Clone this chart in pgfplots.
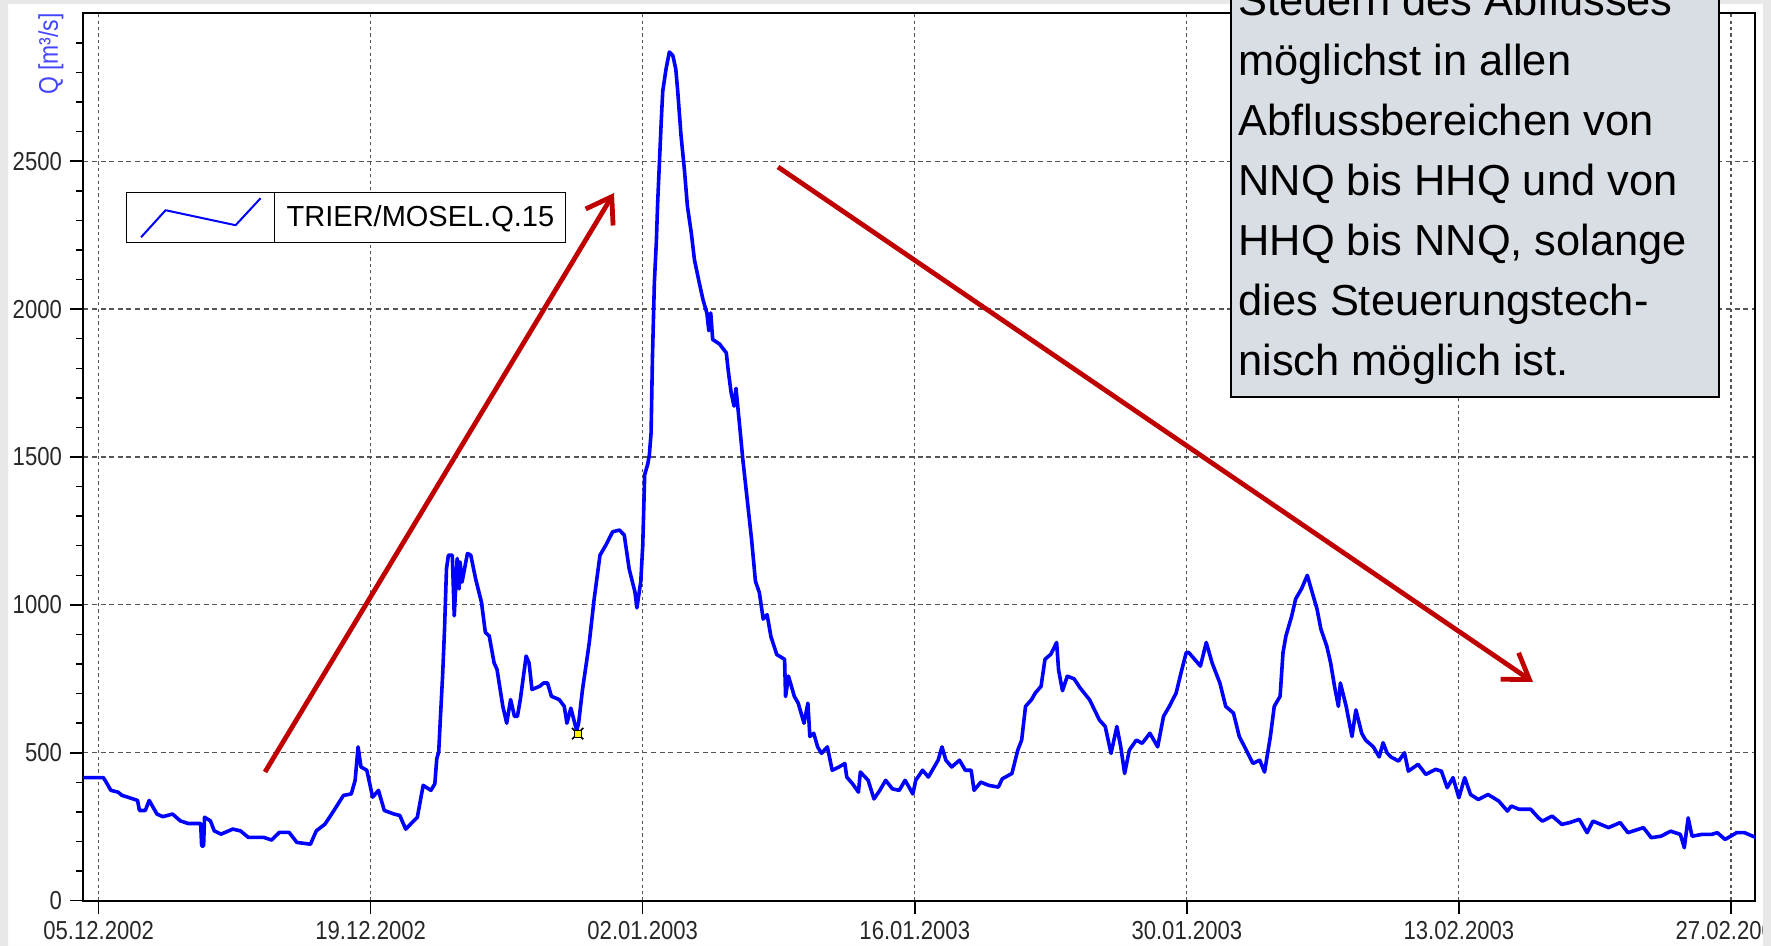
\documentclass[border=0pt]{standalone}
\usepackage{pgfplots}
\usepackage{pgfplotstable}
\pgfplotsset{compat=1.18}
\usetikzlibrary{arrows.meta}
\usepackage{fontspec}
\setmainfont{Liberation Sans}
\newfontfamily\tickfont[FakeStretch=0.85]{Liberation Sans}
\definecolor{framec}{RGB}{232,232,232}
\definecolor{boxfill}{RGB}{216,222,227}
\definecolor{arrowred}{RGB}{192,0,0}
\definecolor{qblue}{RGB}{0,0,255}
\definecolor{qlabel}{RGB}{70,70,255}
\definecolor{gridc}{RGB}{85,85,85}
\definecolor{tickc}{RGB}{40,40,40}

\pgfplotstableread{
day q
-0.8 416
0.24 416
0.33 407
0.63 373
1.0 367
1.2 356
1.5 350
2.0 339
2.1 305
2.4 305
2.6 339
3.0 293
3.3 284
3.8 293
4.2 270
4.6 261
5.25 261
5.3 185
5.4 185
5.45 282
5.75 270
5.95 236
6.3 225
6.9 242
7.3 236
7.7 214
8.5 214
8.9 205
9.3 231
9.8 231
10.2 197
10.9 191
11.2 236
11.65 259
12.05 299
12.6 356
13.0 361
13.2 407
13.35 520
13.5 452
13.8 441
14.1 350
14.4 373
14.7 305
15.2 293
15.5 288
15.8 242
16.4 282
16.7 390
17.1 373
17.3 395
17.4 480
17.5 503
17.6 634
17.7 759
17.8 918
17.9 1122
18.0 1168
18.2 1168
18.3 963
18.45 1157
18.55 1054
18.6 1145
18.7 1077
18.98 1174
19.15 1168
19.4 1088
19.7 1009
19.9 907
20.1 895
20.35 804
20.5 782
20.8 657
21.0 600
21.2 680
21.4 623
21.55 623
21.7 680
22.0 827
22.15 804
22.3 714
22.7 725
22.9 736
23.1 736
23.3 691
23.7 680
23.96 657
24.1 600
24.3 651
24.6 575
24.7 600
24.9 714
25.1 804
25.25 873
25.5 1020
25.8 1168
26.1 1202
26.45 1247
26.8 1253
27.05 1236
27.3 1122
27.6 1043
27.7 990
27.9 1080
28.0 1200
28.1 1440
28.26 1477
28.34 1507
28.43 1582
28.5 1837
28.6 2092
28.7 2227
28.77 2362
28.86 2497
28.95 2632
29.03 2737
29.2 2812
29.37 2869
29.55 2857
29.7 2812
29.8 2737
29.97 2587
30.15 2467
30.3 2347
30.5 2257
30.66 2167
30.9 2092
31.1 2032
31.3 1987
31.4 1927
31.5 1987
31.6 1897
31.95 1882
32.3 1852
32.4 1792
32.55 1717
32.7 1672
32.8 1732
33.0 1597
33.15 1492
33.4 1342
33.6 1222
33.8 1080
34.0 1042
34.2 952
34.4 967
34.6 892
34.9 832
35.3 816
35.35 690
35.5 759
35.8 691
36.0 668
36.3 600
36.5 668
36.6 555
36.8 566
37.0 520
37.2 498
37.5 520
37.75 441
38.1 452
38.4 464
38.5 418
38.8 395
39.1 367
39.2 435
39.6 407
39.9 344
40.2 373
40.5 407
40.85 378
41.2 373
41.5 407
41.9 361
42.05 407
42.4 441
42.7 418
43.2 475
43.4 520
43.6 475
43.9 452
44.3 475
44.6 441
44.9 441
45.05 373
45.4 401
45.8 390
46.3 384
46.5 412
47.0 430
47.3 509
47.5 543
47.7 657
48.0 679
48.2 702
48.5 725
48.7 816
49.0 833
49.3 873
49.4 780
49.6 710
49.85 759
50.2 750
50.5 720
51.0 679
51.5 611
51.8 589
52.1 498
52.4 589
52.6 520
52.8 430
53.04 509
53.4 543
53.7 532
54.1 566
54.5 520
54.8 623
55.1 657
55.45 702
55.7 770
55.97 839
56.1 839
56.4 816
56.7 793
57.0 873
57.3 804
57.7 736
58.0 657
58.4 634
58.7 555
59.06 509
59.4 464
59.75 475
60.0 435
60.3 555
60.5 657
60.8 691
60.95 839
61.1 895
61.4 963
61.6 1020
61.9 1054
62.2 1100
62.4 1054
62.7 986
62.9 918
63.2 861
63.4 804
63.6 725
63.8 657
63.9 736
64.2 657
64.5 555
64.7 645
65.0 566
65.2 543
65.6 520
65.9 486
66.1 534
66.3 500
66.5 486
66.9 472
67.2 500
67.4 438
67.9 461
68.3 427
68.8 444
69.1 438
69.4 382
69.7 416
70.0 348
70.3 416
70.6 359
71.0 342
71.5 359
72.05 337
72.5 303
72.7 320
73.1 309
73.7 309
74.1 280
74.3 269
74.8 286
75.3 258
75.7 264
76.2 275
76.6 230
76.9 269
77.7 247
78.3 264
78.7 230
79.5 247
79.9 213
80.4 218
80.9 235
81.4 224
81.6 179
81.8 280
82.0 218
82.5 224
83.0 224
83.3 230
83.7 207
84.3 230
84.7 230
85.3 213
}\flowtable

\begin{document}
\begin{tikzpicture}[x=0.5pt,y=0.5pt]
\useasboundingbox (0,0) rectangle (1771,946);
\clip (0,0) rectangle (1771,946);
\fill[white] (0,0) rectangle (1771,946);
\begin{axis}[
  at={(41.65pt,22.65pt)}, anchor=south west,
  scale only axis, width=835.85pt, height=443.7pt,
  xmin=-0.79, xmax=85.24, ymin=0, ymax=3000,
  xtick={0,14,28,42,56,70,84},
  xticklabels={05.12.2002,19.12.2002,02.01.2003,16.01.2003,30.01.2003,13.02.2003,27.02.2003},
  ytick={0,500,1000,1500,2000,2500},
  minor ytick={100,200,...,2900},
  xtick pos=bottom, ytick pos=left, tick align=outside,
  major tick length=6.5pt, minor tick length=3.5pt,
  tick style={black, line width=0.75pt},
  grid=major,
  major x grid style={gridc, line width=0.6pt, dash pattern=on 1.6pt off 1.6pt},
  major y grid style={gridc, line width=0.6pt, dash pattern=on 2.5pt off 1.8pt},
  axis line style={black, line width=1pt},
  ticklabel style={font=\tickfont\fontsize{13}{15}\selectfont, text=tickc},
  /pgf/number format/assume math mode=true,
  /pgf/number format/1000 sep={},
  yticklabel style={inner sep=0pt, xshift=-4pt},
  xticklabel style={inner sep=0pt, yshift=-3.5pt},
  legend cell align=left,
  legend style={at={(0.02554,0.7986)}, anchor=north west, draw=black, line width=0.6pt,
    fill=white, inner sep=0pt, font=\fontsize{14.5}{17}\selectfont,
    nodes={inner xsep=5.75pt, inner ysep=0pt}},
  legend image code/.code={
    \path[draw=none, fill=none] (0pt,-12.25pt) rectangle (74pt,12.25pt);
    \draw[black, line width=0.6pt, solid] (74pt,-12.25pt) -- (74pt,12.25pt);
    \draw[qblue, line width=1pt, solid] (7.25pt,-9.75pt) -- (19.5pt,3.75pt) -- (54.5pt,-3.75pt) -- (67pt,9.75pt);
  },
]
\addplot[qblue, line width=1.8pt, line join=round] table[x=day,y=q]{\flowtable};
\addlegendentry{TRIER/MOSEL.Q.15}
\addplot[only marks, mark=x, mark size=4pt, black, line width=0.8pt, forget plot] coordinates {(24.65,565)};
\addplot[only marks, mark=square*, mark size=1.8pt, fill=yellow, draw=black, forget plot] coordinates {(24.65,565)};
\end{axis}
% y label
\node[rotate=90, font=\tickfont\fontsize{13.5}{16}\selectfont, text=qlabel, inner sep=0pt, anchor=east] at (51,933) {Q [m³/s]};
% gray frame of the screenshot
\fill[framec, even odd rule] (0,0) rectangle (1771,946) (8,0) rectangle (1763,942);
% text box
\draw[black, line width=1pt, fill=boxfill] (1231,549) rectangle (1719,1000);
\begin{scope}[every node/.style={anchor=base west, inner sep=0pt, font=\fontsize{21.7}{26}\selectfont}]
\node at (1238,930) {Steuern des Abflusses};
\node at (1238,870) {möglichst in allen};
\node at (1238,810) {Abflussbereichen von};
\node at (1238,750) {NNQ bis HHQ und von};
\node at (1238,690) {HHQ bis NNQ, solange};
\node at (1238,630) {dies Steuerungstech-};
\node at (1238,570) {nisch möglich ist.};
\end{scope}
% arrows
\draw[arrowred, line width=2.4pt, -{Straight Barb[length=12pt,width=16pt]}] (265,174) -- (614,753);
\draw[arrowred, line width=2.4pt, -{Straight Barb[length=12pt,width=16pt]}] (778,779) -- (1533,264);
\end{tikzpicture}
\end{document}
